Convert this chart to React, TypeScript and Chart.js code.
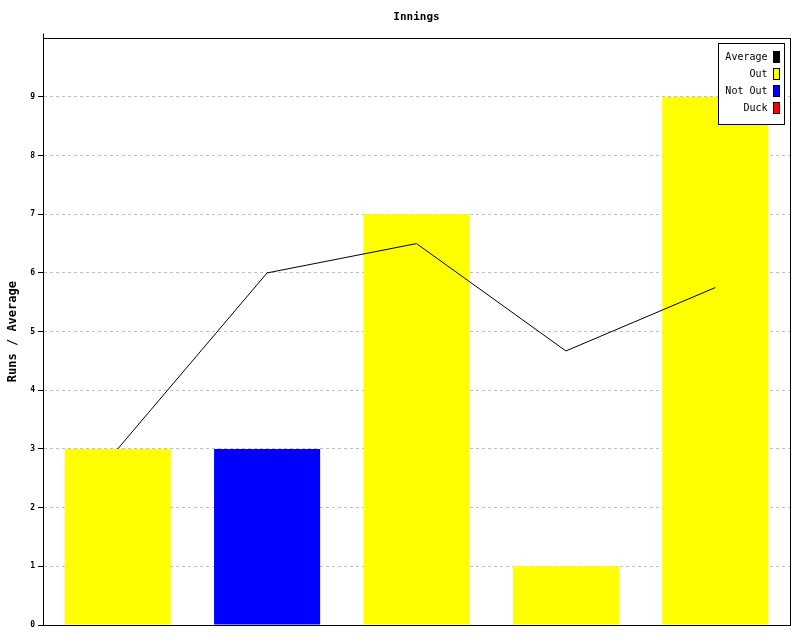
import React, { useEffect, useRef } from "react";
import { Chart, registerables } from "chart.js";

Chart.register(...registerables);

const innings = ["1", "2", "3", "4", "5"];
const runs = [3, 3, 7, 1, 9];
const status = ["Out", "Not Out", "Out", "Out", "Out"];
const average = [3, 6, 6.5, 4.67, 5.75];
const yTicks = [0, 1, 2, 3, 4, 5, 6, 7, 8, 9];
const legendLabels = ["Average", "Out", "Not Out", "Duck"];
const legendColors = ["#000000", "#ffff00", "#0000ff", "#ff0000"];
const statusColors: Record<string, string> = {
  Out: "#ffff00",
  "Not Out": "#0000ff",
  Duck: "#ff0000",
};

const MONO = "'DejaVu Sans Mono', monospace";

const framePlugin = {
  id: "frameAndLegend",
  afterDraw(chart: any) {
    const { ctx, chartArea } = chart;
    const l = Math.round(chartArea.left) + 0.5;
    const t = Math.round(chartArea.top) + 0.5;
    const r = Math.round(chartArea.right) + 0.5;
    const b = Math.round(chartArea.bottom) + 0.5;
    ctx.save();
    ctx.strokeStyle = "#000";
    ctx.lineWidth = 1;
    ctx.setLineDash([]);
    ctx.strokeRect(l, t, r - l, b - t);
    ctx.beginPath();
    ctx.moveTo(l, t - 5);
    ctx.lineTo(l, t);
    ctx.stroke();

    // legend
    const boxR = r - 6;
    const boxT = t + 5;
    const boxW = 66;
    const rowH = 17;
    const boxH = legendLabels.length * rowH + 13;
    ctx.fillStyle = "#fff";
    ctx.fillRect(boxR - boxW, boxT, boxW, boxH);
    ctx.strokeRect(boxR - boxW, boxT, boxW, boxH);
    ctx.font = `10px ${MONO}`;
    ctx.textAlign = "right";
    ctx.textBaseline = "middle";
    legendLabels.forEach((lab, i) => {
      const cy = boxT + 14 + i * rowH;
      ctx.fillStyle = "#000";
      ctx.fillText(lab, boxR - 17, cy);
      ctx.fillStyle = legendColors[i];
      ctx.fillRect(boxR - 11, cy - 6, 6, 11);
      ctx.strokeStyle = "#000";
      ctx.strokeRect(boxR - 11, cy - 6, 6, 11);
    });
    ctx.restore();
  },
};

export default function App() {
  const ref = useRef<HTMLCanvasElement | null>(null);
  useEffect(() => {
    if (!ref.current) return;
    const chart = new Chart(ref.current, {
      type: "bar",
      data: {
        labels: innings,
        datasets: [
          {
            type: "line",
            label: "Average",
            data: average,
            borderColor: "#000",
            borderWidth: 1,
            pointRadius: 0,
            fill: false,
            tension: 0,
            order: 0,
          } as any,
          {
            type: "bar",
            label: "Runs",
            data: runs,
            backgroundColor: status.map((s) => statusColors[s]),
            borderWidth: 0,
            barPercentage: 0.71,
            categoryPercentage: 1,
            order: 1,
          },
        ],
      },
      options: {
        responsive: false,
        animation: false,
        layout: { padding: { top: 0, right: 10, bottom: 15, left: 0 } },
        plugins: {
          legend: { display: false },
          tooltip: { enabled: false },
          title: {
            display: true,
            text: "Innings",
            fullSize: false,
            color: "#000",
            font: { family: MONO, size: 11, weight: "bold", lineHeight: 1.2 },
            padding: { top: 11, bottom: 14 },
          },
        },
        scales: {
          x: { display: false, offset: true },
          y: {
            min: 0,
            max: 10,
            afterFit: (scale: any) => {
              scale.width = 43;
            },
            afterBuildTicks: (scale: any) => {
              scale.ticks = [...yTicks, 10].map((v) => ({ value: v }));
            },
            ticks: {
              stepSize: 1,
              color: "#000",
              padding: 3,
              font: { family: MONO, size: 8, weight: "bold" },
              callback: (v: any) => (yTicks.includes(Number(v)) ? String(v) : ""),
            },
            grid: {
              color: "#c0c0c0",
              tickColor: (ctx: any) => (ctx.tick && ctx.tick.value === 10 ? "rgba(0,0,0,0)" : "#000"),
              tickLength: 5,
              tickBorderDash: [],
            } as any,
            border: { display: true, color: "#000", dash: [3, 3] },
            title: {
              display: true,
              text: "Runs / Average",
              color: "#000",
              font: { family: MONO, size: 12, weight: "bold", lineHeight: 1.2 },
              padding: { top: 6, bottom: 0 },
            },
          },
        },
      },
      plugins: [framePlugin],
    });
    return () => chart.destroy();
  }, []);
  return (
    <div style={{ position: "absolute", left: 0, top: 0, width: 800, height: 640, background: "#fff" }}>
      <canvas ref={ref} width={800} height={640} style={{ display: "block" }} />
    </div>
  );
}
